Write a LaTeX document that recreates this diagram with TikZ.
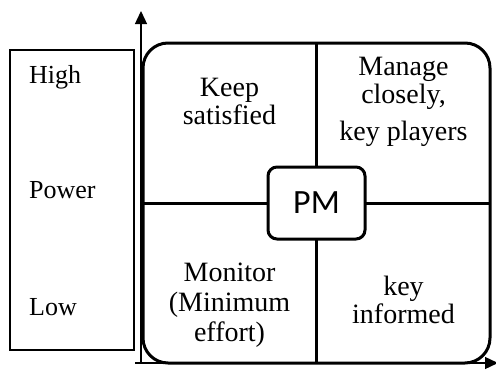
\documentclass[tikz,border=0pt]{standalone}
\usepackage{fontspec}
\setmainfont{Liberation Serif}
\newfontfamily\pmfont{Carlito}
\usetikzlibrary{arrows.meta}
\tikzset{
  frame/.style={draw, line width=3pt, outer sep=0pt, inner sep=0pt},
  divider/.style={line width=3pt},
  axis/.style={line width=1.3pt, -{Triangle[length=13pt, width=12pt]}},
  quadtext/.style={align=center, inner sep=0pt, font=\fontsize{28}{28}\selectfont},
  sidetext/.style={anchor=base west, inner sep=0pt, font=\fontsize{26}{28}\selectfont}
}
\begin{document}
\begin{tikzpicture}[x=1pt,y=-1pt]
\useasboundingbox (0,0) rectangle (496,370);
% axes
\coordinate (o) at (141,363);
\coordinate (ytip) at (141,11);
\coordinate (xs) at (135,363);
\coordinate (xtip) at (498,363);
\draw[axis] (o) -- (ytip);
\draw[axis] (xs) -- (xtip);
% side box
\node[draw, line width=1.2pt, minimum width=124pt, minimum height=300pt, outer sep=0pt] (side) at (72,200) {};
\node[sidetext] (high) at (29,83) {High};
\node[sidetext] (power) at (29,198) {Power};
\node[sidetext] (low) at (29,315) {Low};
% grid
\node[frame, rounded corners=25pt, minimum width=347pt, minimum height=320pt] (grid) at (316.5,203) {};
\node[frame, rounded corners=9pt, minimum width=97pt, minimum height=72pt, font=\pmfont\fontsize{34}{40}\selectfont] (pm) at (316.5,203) {PM};
\draw[divider] (grid.north) -- (pm.north);
\draw[divider] (pm.south) -- (grid.south);
\draw[divider] (grid.west) -- (pm.west);
\draw[divider] (pm.east) -- (grid.east);
% quadrant texts
\node[quadtext] (keep) at (229.5,101.5) {Keep\\satisfied};
\node[quadtext] (manage) at (403.5,102) {Manage\\closely,\\[9pt]key players};
\node[quadtext, font=\fontsize{28}{30}\selectfont] (monitor) at (229.5,305) {Monitor\\(Minimum\\effort)};
\node[quadtext] (inform) at (403.5,300) {key\\informed};
\end{tikzpicture}
\end{document}
